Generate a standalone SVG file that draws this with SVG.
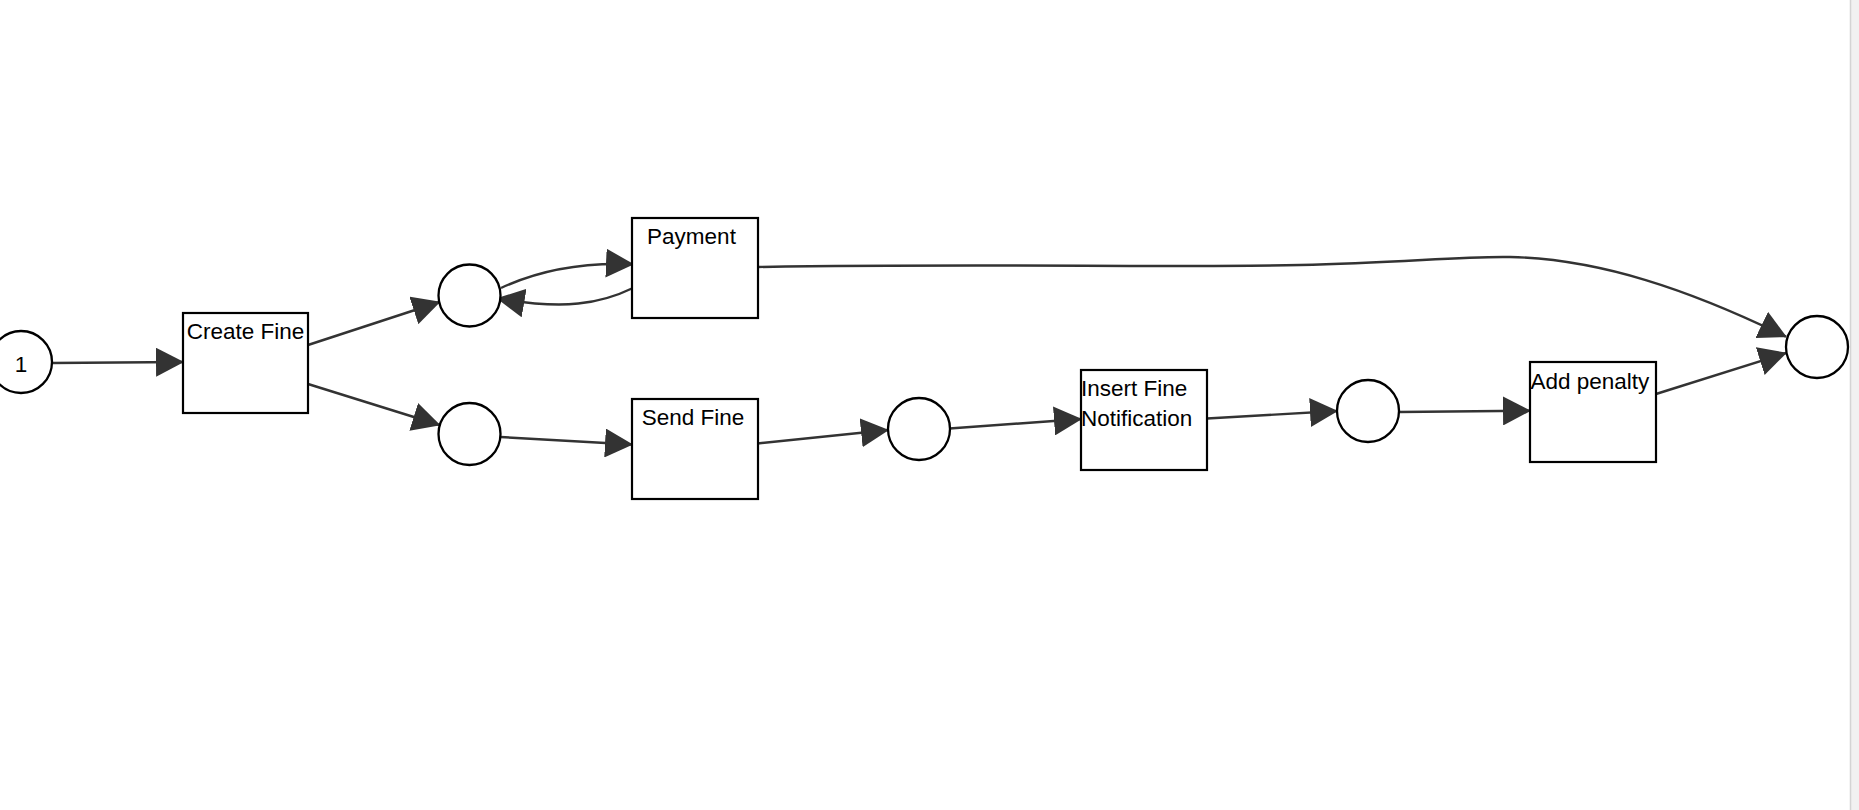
<svg xmlns="http://www.w3.org/2000/svg" width="1859" height="810" viewBox="0 0 1859 810">
<style>
.place{fill:#fff;stroke:#000;stroke-width:2.3}
.trans{fill:#fff;stroke:#000;stroke-width:2.2}
.arc{fill:none;stroke:#333;stroke-width:2.4;marker-end:url(#arr)}
.lbl{font-family:"Liberation Sans",Arial,sans-serif;font-size:22.5px;fill:#000}
.mid{text-anchor:middle}
</style>
<defs>
<marker id="arr" markerUnits="userSpaceOnUse" markerWidth="28" markerHeight="29" refX="27" refY="14.5" orient="auto">
<path d="M0,0 L28,14.5 L0,29 z" fill="#333"/>
</marker>
</defs>
<rect x="0" y="0" width="1859" height="810" fill="#fff"/>
<g id="scrollbar">
<rect x="1850" y="0" width="9" height="810" fill="#f1f1f1"/>
<line x1="1850.5" y1="0" x2="1850.5" y2="810" stroke="#d4d4d4" stroke-width="1.5"/>
</g>
<g id="connectors">
<path class="arc" d="M51.5,363 L183,362"/>
<path class="arc" d="M308,345 L439.5,302"/>
<path class="arc" d="M308,384 L439.5,425"/>
<path class="arc" d="M501,288 C535,272 580,262 633,264.3"/>
<path class="arc" d="M633,288 C600,304 565,310 497.5,298.5"/>
<path class="arc" d="M757.5,267 C1000,263 1150,268 1300,265 C1400,263 1460,256 1510,257 C1600,259 1690,290 1786,336.7"/>
<path class="arc" d="M500.5,437 L632,444.5"/>
<path class="arc" d="M757.5,443.5 L888,430"/>
<path class="arc" d="M949.5,428.5 L1081,419"/>
<path class="arc" d="M1207,418.5 L1337,411"/>
<path class="arc" d="M1399,412 L1530,410.7"/>
<path class="arc" d="M1656,394 L1786,353"/>
</g>
<g id="p0"><circle class="place" cx="21" cy="362" r="31"/><text class="lbl mid" x="21" y="372">1</text></g>
<g id="p1"><circle class="place" cx="469.5" cy="295.5" r="31"/></g>
<g id="p2"><circle class="place" cx="469.5" cy="434" r="31"/></g>
<g id="p3"><circle class="place" cx="919" cy="429" r="31"/></g>
<g id="p4"><circle class="place" cx="1368" cy="411" r="31"/></g>
<g id="p5"><circle class="place" cx="1817" cy="347" r="31"/></g>
<g id="t-create"><rect class="trans" x="183" y="313" width="125" height="100"/><text class="lbl mid" x="245.5" y="338.5">Create Fine</text></g>
<g id="t-payment"><rect class="trans" x="632" y="218" width="126" height="100"/><text class="lbl mid" x="691.5" y="244">Payment</text></g>
<g id="t-send"><rect class="trans" x="632" y="399" width="126" height="100"/><text class="lbl mid" x="693" y="424.5">Send Fine</text></g>
<g id="t-insert"><rect class="trans" x="1081" y="370" width="126" height="100"/><text class="lbl" x="1081" y="396">Insert Fine</text><text class="lbl" x="1081" y="426">Notification</text></g>
<g id="t-penalty"><rect class="trans" x="1530" y="362" width="126" height="100"/><text class="lbl" x="1530.5" y="388.5">Add penalty</text></g>
</svg>
